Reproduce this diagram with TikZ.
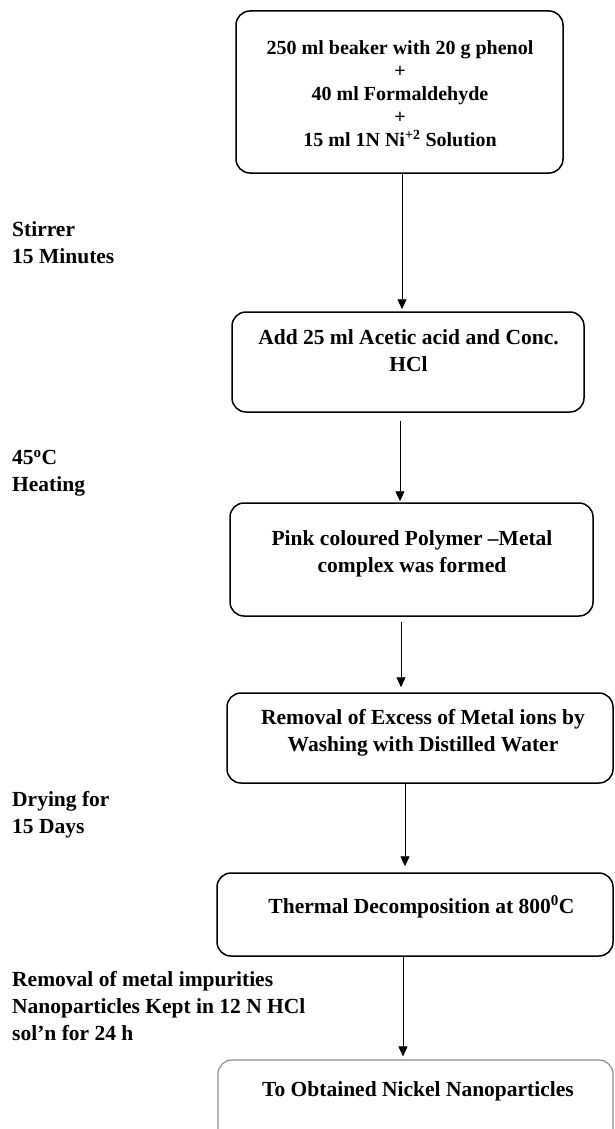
\documentclass[tikz,border=0pt]{standalone}
\usepackage{fontspec}
\setmainfont{Liberation Serif}
\usetikzlibrary{arrows.meta}
\begin{document}
\begin{tikzpicture}[x=1pt,y=-1pt,
  box/.style={draw, line width=1.5pt, rounded corners=14pt, inner sep=0pt},
  lastbox/.style={draw=black!45, line width=1.2pt, rounded corners=14pt, inner sep=0pt},
  btxt/.style={font=\fontsize{21.5}{27}\selectfont\bfseries, align=center, inner sep=0pt},
  firsttxt/.style={font=\fontsize{20}{23}\selectfont\bfseries, align=center, inner sep=0pt},
  ltxt/.style={font=\fontsize{21.5}{27}\selectfont\bfseries, align=left, anchor=west, inner sep=0pt},
  arr/.style={-{Triangle[width=9pt,length=10pt]}, line width=0.8pt}]
\useasboundingbox (0,0) rectangle (615,1129);
\clip (0,0) rectangle (615,1129);

% boxes
\node[box, minimum width=327pt, minimum height=162pt] (b1) at (399.5,92) {};
\node[box, minimum width=352pt, minimum height=100pt] (b2) at (408,362) {};
\node[box, minimum width=363pt, minimum height=113pt] (b3) at (411.5,559.5) {};
\node[box, minimum width=386pt, minimum height=90pt] (b4) at (420,738) {};
\node[box, minimum width=396pt, minimum height=83pt] (b5) at (415,914.5) {};
\node[lastbox, minimum width=395pt, minimum height=90pt] (b6) at (415.5,1105) {};

% box texts
\node[firsttxt] (t1) at (400,94) {250 ml beaker with 20 g phenol\\+\\40 ml Formaldehyde\\+\\15 ml 1N Ni\textsuperscript{+2} Solution};
\node[btxt] (t2) at (408.5,351) {Add 25 ml Acetic acid and Conc.\\HCl};
\node[btxt] (t3) at (412,553.5) {Pink coloured Polymer –Metal\\complex was formed};
\node[btxt] (t4) at (423,732.5) {Removal of Excess of Metal ions by\\Washing with Distilled Water};
\node[btxt] (t5) at (421.5,907) {Thermal Decomposition at 800\textsuperscript{0}C};
\node[btxt] (t6) at (418,1091) {To Obtained Nickel Nanoparticles};

% side labels
\node[ltxt] (l1) at (12,242.5) {Stirrer\\15 Minutes};
\node[ltxt] (l2) at (12,473.5) {45\textsuperscript{o}C\\Heating};
\node[ltxt] (l3) at (12,814.5) {Drying for\\15 Days};
\node[ltxt] (l4) at (12,1006) {Removal of metal impurities\\Nanoparticles Kept in 12 N HCl\\sol’n for 24 h};

% arrows
\coordinate (p1) at (402,0);
\coordinate (p2) at (400,0);
\coordinate (p3) at (401,0);
\coordinate (p4) at (405,0);
\coordinate (p5) at (403,0);
\draw[arr, shorten >=2pt] (b1.south -| p1) -- (b2.north -| p1);
\draw[arr, shorten <=8pt, shorten >=1pt] (b2.south -| p2) -- (b3.north -| p2);
\draw[arr, shorten <=5pt, shorten >=5pt] (b3.south -| p3) -- (b4.north -| p3);
\draw[arr, shorten >=6pt] (b4.south -| p4) -- (b5.north -| p4);
\draw[arr, shorten >=3pt] (b5.south -| p5) -- (b6.north -| p5);
\end{tikzpicture}
\end{document}
